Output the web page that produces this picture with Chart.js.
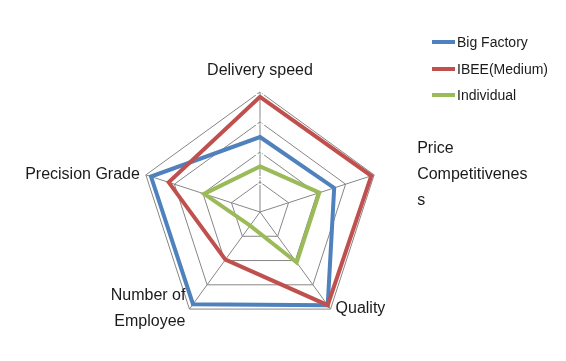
<!DOCTYPE html>
<html>
<head>
<meta charset="utf-8">
<script src="https://cdn.jsdelivr.net/npm/chart.js@4/dist/chart.umd.min.js"></script>
<style>
  html, body { margin: 0; padding: 0; background: #fff; }
  #wrap { position: relative; width: 566px; height: 361px; }
  #legend { position: absolute; left: 432px; top: 29px; margin: 0; padding: 0; list-style: none;
            font: 14px 'Liberation Sans', sans-serif; color: #1a1a1a; }
  #legend li { display: flex; align-items: center; height: 26.5px; white-space: nowrap; }
  #legend .swatch { width: 23px; height: 4px; margin-right: 2px; }
</style>
</head>
<body>
<div id="wrap">
  <canvas id="radarChart"></canvas>
  <ul id="legend"></ul>
</div>
<script>
const categories = ['Delivery speed', ['Price', 'Competitivenes', 's'], 'Quality', ['Number of', 'Employee'], 'Precision Grade'];
const bigFactory = [12.5, 13, 19.2, 19, 19.1];
const ibeeMedium = [19.2, 19.5, 19.2, 9.8, 16];
const individual = [7.6, 10.4, 10.4, 2.8, 9.8];

// gap between the outer vertex and each axis label
const labelGaps = [8, 43, 5, 4, 6];

// axis labels placed like excel does it: beside the vertex, centred on it vertically
const axisLabels = {
    id: 'axisLabels',
    afterDatasetsDraw(chart, args, opts) {
        const scale = chart.scales.r;
        const ctx = chart.ctx;
        ctx.save();
        ctx.font = opts.font;
        ctx.fillStyle = opts.color;
        ctx.textBaseline = 'middle';
        chart.data.labels.forEach((label, i) => {
            const lines = [].concat(label);
            const p = scale.getPointPosition(i, scale.drawingArea);
            const dx = p.x - scale.xCenter;
            const blockH = lines.length * opts.lineHeight;
            let x = p.x, top;
            if (Math.abs(dx) < 1) {
                ctx.textAlign = 'center';
                top = p.y - labelGaps[i] - blockH;
            } else {
                ctx.textAlign = dx > 0 ? 'left' : 'right';
                x += dx > 0 ? labelGaps[i] : -labelGaps[i];
                top = p.y - blockH / 2;
            }
            lines.forEach((line, j) => ctx.fillText(line, x, top + opts.lineHeight * (j + 0.5)));
        });
        ctx.restore();
    }
};

const htmlLegend = {
    id: 'htmlLegend',
    afterUpdate(chart) {
        const ul = document.getElementById('legend');
        ul.innerHTML = '';
        const items = chart.options.plugins.legend.labels.generateLabels(chart)
            .sort((a, b) => a.datasetIndex - b.datasetIndex);
        items.forEach(item => {
            const li = document.createElement('li');
            const sw = document.createElement('span');
            sw.className = 'swatch';
            sw.style.background = item.strokeStyle;
            li.appendChild(sw);
            li.appendChild(document.createTextNode(item.text));
            ul.appendChild(li);
        });
    }
};

const ctx = document.getElementById('radarChart').getContext('2d');
new Chart(ctx, {
    type: 'radar',
    data: {
        labels: categories,
        datasets: [{
            label: 'Big Factory',
            data: bigFactory,
            borderColor: '#4F81BD',
            backgroundColor: '#4F81BD',
            order: 3
        },
        {
            label: 'IBEE(Medium)',
            data: ibeeMedium,
            borderColor: '#C0504D',
            backgroundColor: '#C0504D',
            order: 2
        },
        {
            label: 'Individual',
            data: individual,
            borderColor: '#9BBB59',
            backgroundColor: '#9BBB59',
            order: 1
        }]
    },
    options: {
        responsive: true,
        maintainAspectRatio: false,
        animation: false,
        layout: { padding: { left: 132, top: 80, bottom: 17, right: 178 } },
        elements: {
            line: { borderWidth: 4, fill: false, borderJoinStyle: 'miter' },
            point: { radius: 0, hoverRadius: 0 }
        },
        plugins: {
            legend: { display: false },
            tooltip: { enabled: false },
            axisLabels: { font: "16px 'Liberation Sans'", color: '#1a1a1a', lineHeight: 26 }
        },
        scales: {
            r: {
                min: 0,
                max: 20,
                ticks: {
                    stepSize: 5,
                    color: '#ffffff',
                    showLabelBackdrop: false,
                    z: 1,
                    font: { family: 'Liberation Sans', size: 12 }
                },
                grid: { color: '#868686', lineWidth: 1 },
                angleLines: { color: '#868686', lineWidth: 1 },
                pointLabels: { display: false }
            }
        }
    },
    plugins: [axisLabels, htmlLegend]
});
</script>
</body>
</html>
